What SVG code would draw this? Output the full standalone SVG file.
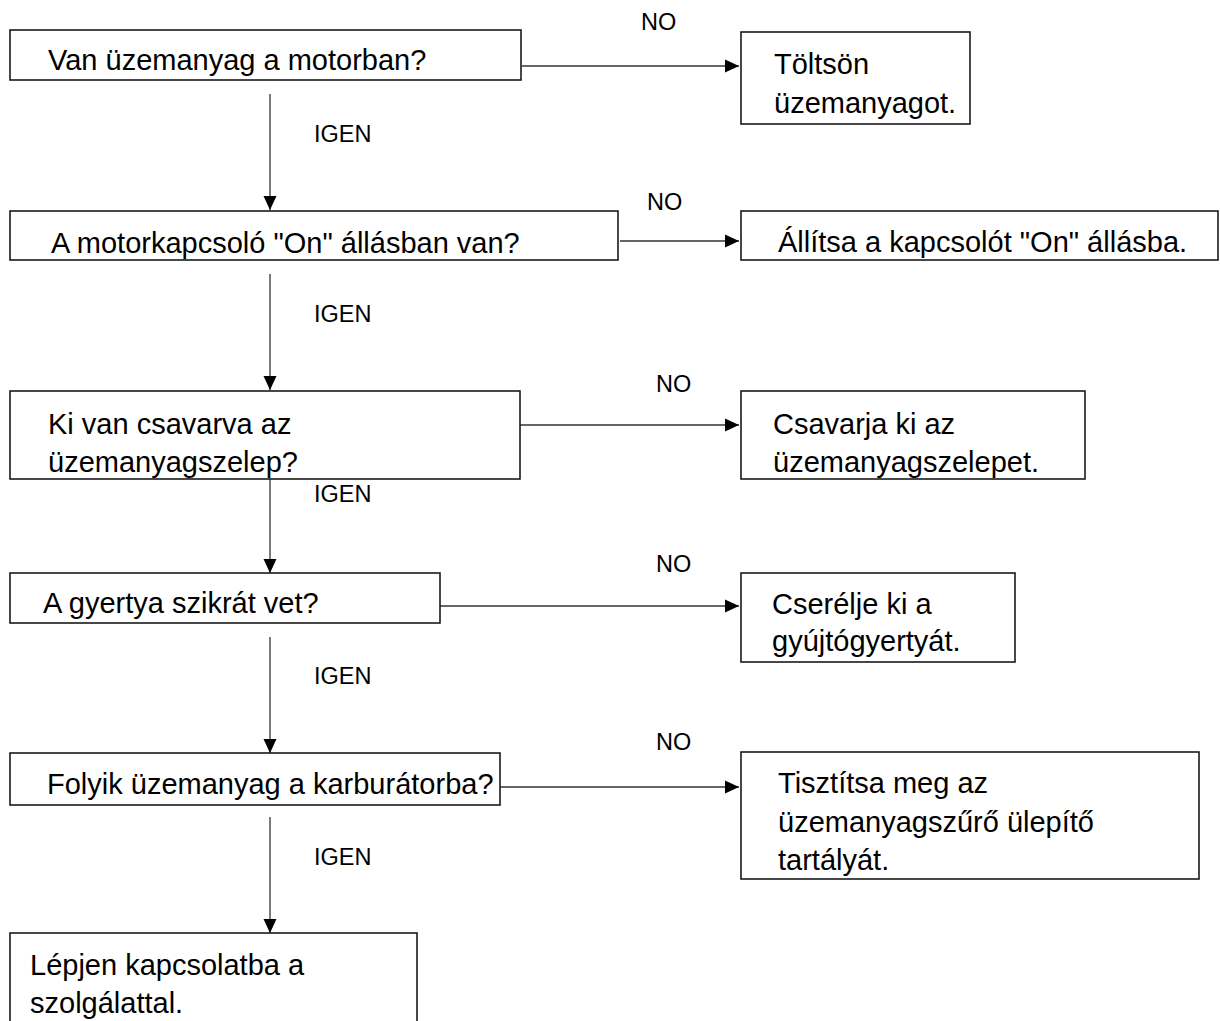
<svg xmlns="http://www.w3.org/2000/svg" width="1220" height="1021" viewBox="0 0 1220 1021">
<style>
.box{fill:#fff;stroke:#1a1a1a;stroke-width:1.6}
.t{font-family:"Liberation Sans",Arial,sans-serif;font-size:29px;fill:#000}
.lbl{font-family:"Liberation Sans",Arial,sans-serif;font-size:23.5px;fill:#000}
.c{fill:none;stroke:#333;stroke-width:1.3}
</style>
<defs>
<marker id="ah" markerUnits="userSpaceOnUse" markerWidth="16" markerHeight="16" refX="14" refY="8" orient="auto">
<path d="M0,1.5 L14,8 L0,14.5 z" fill="#000"/>
</marker>
</defs>
<rect width="1220" height="1021" fill="#fff"/>
<g id="connectors">
<line class="c" x1="522" y1="66" x2="739" y2="66" marker-end="url(#ah)"/>
<line class="c" x1="620" y1="241" x2="739" y2="241" marker-end="url(#ah)"/>
<line class="c" x1="520" y1="425" x2="739" y2="425" marker-end="url(#ah)"/>
<line class="c" x1="440" y1="606" x2="739" y2="606" marker-end="url(#ah)"/>
<line class="c" x1="500" y1="787" x2="739" y2="787" marker-end="url(#ah)"/>
<line class="c" x1="270" y1="94" x2="270" y2="210" marker-end="url(#ah)"/>
<line class="c" x1="270" y1="274" x2="270" y2="390" marker-end="url(#ah)"/>
<line class="c" x1="270" y1="471" x2="270" y2="573" marker-end="url(#ah)"/>
<line class="c" x1="270" y1="637" x2="270" y2="753" marker-end="url(#ah)"/>
<line class="c" x1="270" y1="817" x2="270" y2="933" marker-end="url(#ah)"/>
<text class="lbl" x="641" y="30">NO</text>
<text class="lbl" x="647" y="210">NO</text>
<text class="lbl" x="656" y="392">NO</text>
<text class="lbl" x="656" y="572">NO</text>
<text class="lbl" x="656" y="750">NO</text>
<text class="lbl" x="314" y="142">IGEN</text>
<text class="lbl" x="314" y="322">IGEN</text>
<text class="lbl" x="314" y="502">IGEN</text>
<text class="lbl" x="314" y="684">IGEN</text>
<text class="lbl" x="314" y="865">IGEN</text>
</g>
<g id="q1"><rect class="box" x="10" y="30" width="511" height="50"/><text class="t" x="48" y="70">Van üzemanyag a motorban?</text></g>
<g id="a1"><rect class="box" x="741" y="32" width="229" height="92"/><text class="t" x="774" y="74">Töltsön</text><text class="t" x="774" y="113">üzemanyagot.</text></g>
<g id="q2"><rect class="box" x="10" y="211" width="608" height="49"/><text class="t" x="51" y="253">A motorkapcsoló "On" állásban van?</text></g>
<g id="a2"><rect class="box" x="741" y="211" width="477" height="49"/><text class="t" x="778" y="252">Állítsa a kapcsolót "On" állásba.</text></g>
<g id="q3"><rect class="box" x="10" y="391" width="510" height="88"/><text class="t" x="48" y="434">Ki van csavarva az</text><text class="t" x="48" y="472">üzemanyagszelep?</text></g>
<g id="a3"><rect class="box" x="741" y="391" width="344" height="88"/><text class="t" x="773" y="434">Csavarja ki az</text><text class="t" x="773" y="472">üzemanyagszelepet.</text></g>
<g id="q4"><rect class="box" x="10" y="573" width="430" height="50"/><text class="t" x="43" y="613">A gyertya szikrát vet?</text></g>
<g id="a4"><rect class="box" x="741" y="573" width="274" height="89"/><text class="t" x="772" y="614">Cserélje ki a</text><text class="t" x="772" y="651">gyújtógyertyát.</text></g>
<g id="q5"><rect class="box" x="10" y="753" width="490" height="52"/><text class="t" x="47" y="794">Folyik üzemanyag a karburátorba?</text></g>
<g id="a5"><rect class="box" x="741" y="752" width="458" height="127"/><text class="t" x="778" y="793">Tisztítsa meg az</text><text class="t" x="778" y="832">üzemanyagszűrő ülepítő</text><text class="t" x="778" y="870">tartályát.</text></g>
<g id="end"><rect class="box" x="10" y="933" width="407" height="100"/><text class="t" x="30" y="975">Lépjen kapcsolatba a</text><text class="t" x="30" y="1013">szolgálattal.</text></g>
</svg>
